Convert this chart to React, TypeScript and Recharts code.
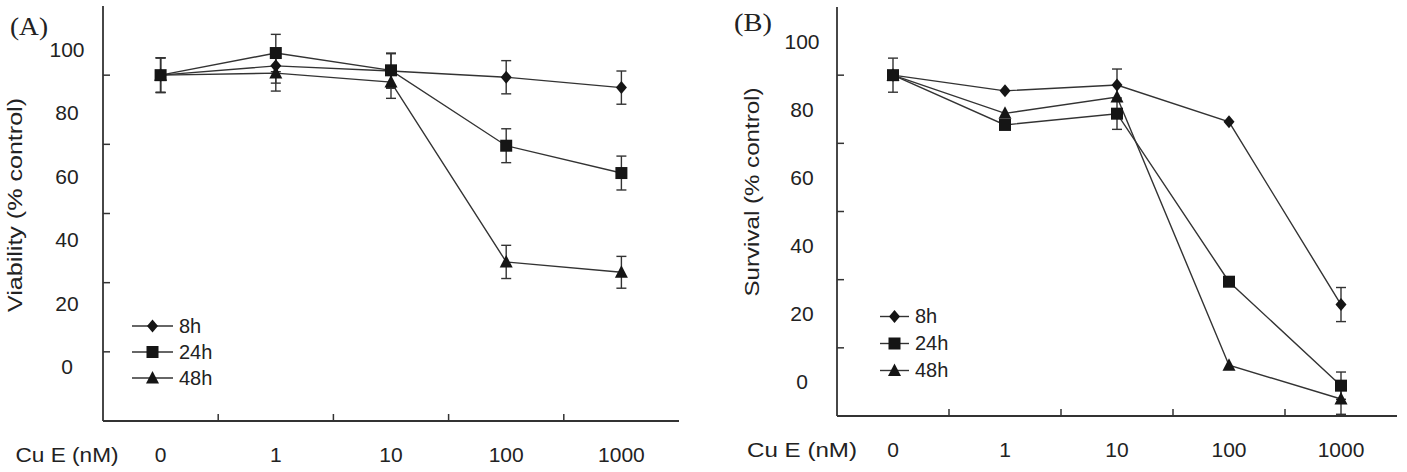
import React from "react";
import { LineChart, Line, XAxis, YAxis, ErrorBar, Legend } from "recharts";

// Cu E concentration groups (nM)
const doses = ["0", "1", "10", "100", "1000"];

// (A) viability, % control, mean and error per dose
const viab8h = [100, 102.7, 101.2, 99.4, 96.4];
const viab8hErr = [5, 5, 5, 4.8, 4.8];
const viab24h = [100, 106.4, 101.4, 79.6, 71.7];
const viab24hErr = [5, 5.4, 5, 4.9, 4.9];
const viab48h = [100, 100.6, 98.0, 46.0, 43.0];
const viab48hErr = [5, 5.2, 4.7, 4.8, 4.6];

// (B) survival, % control
const surv8h = [100, 95.4, 97.1, 86.3, 32.7];
const surv8hErr = [5, 0, 4.7, 0, 5];
const surv24h = [100, 85.4, 88.7, 39.4, 8.9];
const surv24hErr = [0, 0, 4.6, 0, 4];
const surv48h = [100, 88.8, 93.6, 14.9, 5.0];
const surv48hErr = [0, 0, 0, 0, 4.5];

const pctTicks = [0, 20, 40, 60, 80, 100];
const pctDomain: [number, number] = [0, 120];
const seriesNames = ["8h", "24h", "48h"];

const INK = "#151515";
const STROKE = "#333";
const TEXT = "#222";
const SANS = '"Liberation Sans", Arial, sans-serif';
const SERIF = '"Liberation Serif", "Times New Roman", serif';

type Shape = "diamond" | "square" | "triangle";
const shapes: Shape[] = ["diamond", "square", "triangle"];
const keys = ["h8", "h24", "h48"];

type Row = Record<string, string | number>;

function buildRows(vals: number[][], errs: number[][]): Row[] {
  return doses.map((dose, i) => {
    const row: Row = { dose };
    keys.forEach((k, s) => {
      row[k] = vals[s][i];
      row[k + "Err"] = errs[s][i];
    });
    return row;
  });
}

const rowsA = buildRows([viab8h, viab24h, viab48h], [viab8hErr, viab24hErr, viab48hErr]);
const rowsB = buildRows([surv8h, surv24h, surv48h], [surv8hErr, surv24hErr, surv48hErr]);

function Marker({ shape, cx, cy }: { shape: Shape; cx: number; cy: number }) {
  if (shape === "diamond") {
    return <path d={`M${cx},${cy - 6.5}L${cx + 5.5},${cy}L${cx},${cy + 6.5}L${cx - 5.5},${cy}Z`} fill={INK} />;
  }
  if (shape === "square") {
    return <rect x={cx - 6} y={cy - 6} width={12} height={12} fill={INK} />;
  }
  return <path d={`M${cx},${cy - 7}L${cx + 6.5},${cy + 5.5}L${cx - 6.5},${cy + 5.5}Z`} fill={INK} />;
}

function PctTick(props: any) {
  const { x, y, payload, labelDx, lift } = props;
  const v = payload.value as number;
  return (
    <g>
      {v > 0 && <line x1={x} x2={x + 7} y1={y} y2={y} stroke={STROKE} strokeWidth={1.5} />}
      <text x={x + labelDx} y={y + lift(v)} dy="0.35em" textAnchor="middle" fontFamily={SANS} fontSize={21} fill={TEXT}>
        {v}
      </text>
    </g>
  );
}

function DoseTick(props: any) {
  const { x, y, payload, index, band } = props;
  return (
    <g>
      {index < doses.length - 1 && (
        <line x1={x + band / 2} x2={x + band / 2} y1={y} y2={y - 7} stroke={STROKE} strokeWidth={1.5} />
      )}
      <text x={x} y={y + 34} dy="0.35em" textAnchor="middle" fontFamily={SANS} fontSize={21} fill={TEXT}>
        {payload.value}
      </text>
    </g>
  );
}

function FreeText(props: any) {
  const { px, py, text, size, family, length, vertical } = props;
  return (
    <text
      x={px}
      y={py}
      dy="0.35em"
      textAnchor="middle"
      transform={vertical ? `rotate(-90 ${px} ${py})` : undefined}
      fontFamily={family}
      fontSize={size}
      fill={TEXT}
      textLength={length}
      lengthAdjust={length ? "spacingAndGlyphs" : undefined}
    >
      {text}
    </text>
  );
}

function LegendRows({ rowH, lineW }: { rowH: number; lineW: number }) {
  return (
    <div>
      {seriesNames.map((name, s) => (
        <div key={name} style={{ display: "flex", alignItems: "center", height: rowH }}>
          <svg width={lineW} height={rowH}>
            <line x1={0} x2={lineW} y1={rowH / 2} y2={rowH / 2} stroke={STROKE} strokeWidth={1.4} />
            <Marker shape={shapes[s]} cx={lineW / 2} cy={rowH / 2} />
          </svg>
          <span style={{ marginLeft: 6, fontFamily: SANS, fontSize: 20, color: TEXT, lineHeight: `${rowH}px` }}>
            {name}
          </span>
        </div>
      ))}
    </div>
  );
}

type PanelProps = {
  rows: Row[];
  left: number;
  width: number;
  plotLeft: number;
  plotRight: number;
  plotTop: number;
  plotBottom: number;
  labelDx: number;
  lift: (v: number) => number;
  letter: string;
  letterX: number;
  letterY: number;
  yTitle: string;
  titleDx: number;
  titleY: number;
  titleLength: number;
  captionLength: number;
  legendLeft: number;
  legendTop: number;
  legendRow: number;
  legendLine: number;
};

const HEIGHT = 472;

function Panel(p: PanelProps) {
  const band = (p.plotRight - p.plotLeft) / doses.length;
  const xAxisH = HEIGHT - p.plotBottom;
  const frame = { stroke: STROKE, strokeWidth: 1.8 };
  return (
    <div style={{ position: "absolute", left: p.left, top: 0, width: p.width, height: HEIGHT }}>
      <LineChart
        width={p.width}
        height={HEIGHT}
        data={p.rows}
        margin={{ top: p.plotTop, right: p.width - p.plotRight, bottom: 0, left: 0 }}
      >
        <XAxis
          dataKey="dose"
          scale="band"
          interval={0}
          height={xAxisH}
          tickSize={0}
          tickMargin={0}
          tickLine={false}
          axisLine={frame}
          tick={<DoseTick band={band} />}
          label={
            <FreeText
              px={p.plotLeft + p.labelDx}
              py={p.plotBottom + 34}
              text="Cu E (nM)"
              size={21}
              family={SANS}
              length={p.captionLength}
            />
          }
        />
        <XAxis xAxisId="frame" dataKey="dose" orientation="top" height={0} tick={false} tickLine={false} axisLine={frame} />
        <YAxis
          domain={pctDomain}
          ticks={pctTicks}
          interval={0}
          width={p.plotLeft}
          tickSize={0}
          tickMargin={0}
          tickLine={false}
          axisLine={frame}
          tick={<PctTick labelDx={p.labelDx} lift={p.lift} />}
          label={
            <FreeText
              px={p.plotLeft + p.titleDx}
              py={p.titleY}
              text={p.yTitle}
              size={21}
              family={SANS}
              length={p.titleLength}
              vertical
            />
          }
        />
        <YAxis
          yAxisId="frame"
          orientation="right"
          domain={pctDomain}
          width={0}
          tick={false}
          tickLine={false}
          axisLine={frame}
        />
        {keys.map((k, s) => (
          <Line
            key={k}
            dataKey={k}
            name={seriesNames[s]}
            stroke={STROKE}
            strokeWidth={1.4}
            isAnimationActive={false}
            activeDot={false}
            dot={(d: any) => <Marker key={`${k}-${d.index}`} shape={shapes[s]} cx={d.cx} cy={d.cy} />}
          >
            <ErrorBar dataKey={k + "Err"} direction="y" width={5} stroke={STROKE} strokeWidth={1.4} />
          </Line>
        ))}
        <Legend
          layout="vertical"
          align="center"
          verticalAlign="middle"
          wrapperStyle={{ left: p.legendLeft, top: p.legendTop, width: 120 }}
          content={() => <LegendRows rowH={p.legendRow} lineW={p.legendLine} />}
        />
      </LineChart>
      {/* panel letter in the upper-left corner */}
      <svg
        width={80}
        height={50}
        style={{ position: "absolute", left: 0, top: 0, pointerEvents: "none" }}
      >
        <FreeText px={p.letterX} py={p.letterY} text={p.letter} size={26} family={SERIF} length={38} />
      </svg>
    </div>
  );
}

export default function App() {
  return (
    <div style={{ position: "absolute", left: 0, top: 0, width: 1407, height: HEIGHT, background: "#fff" }}>
      <Panel
        rows={rowsA}
        left={0}
        width={700}
        plotLeft={103}
        plotRight={679}
        plotTop={6}
        plotBottom={421}
        labelDx={-36}
        lift={(v) => -54 + 0.285 * v}
        letter="(A)"
        letterX={29}
        letterY={26}
        yTitle="Viability (% control)"
        titleDx={-88}
        titleY={205}
        titleLength={214}
        captionLength={103}
        legendLeft={132}
        legendTop={313}
        legendRow={26}
        legendLine={41}
      />
      <Panel
        rows={rowsB}
        left={700}
        width={707}
        plotLeft={137}
        plotRight={697}
        plotTop={7}
        plotBottom={416}
        labelDx={-35}
        lift={() => -34}
        letter="(B)"
        letterX={53}
        letterY={22}
        yTitle="Survival (% control)"
        titleDx={-85}
        titleY={192}
        titleLength={209}
        captionLength={110}
        legendLeft={180}
        legendTop={303}
        legendRow={27}
        legendLine={29}
      />
    </div>
  );
}
